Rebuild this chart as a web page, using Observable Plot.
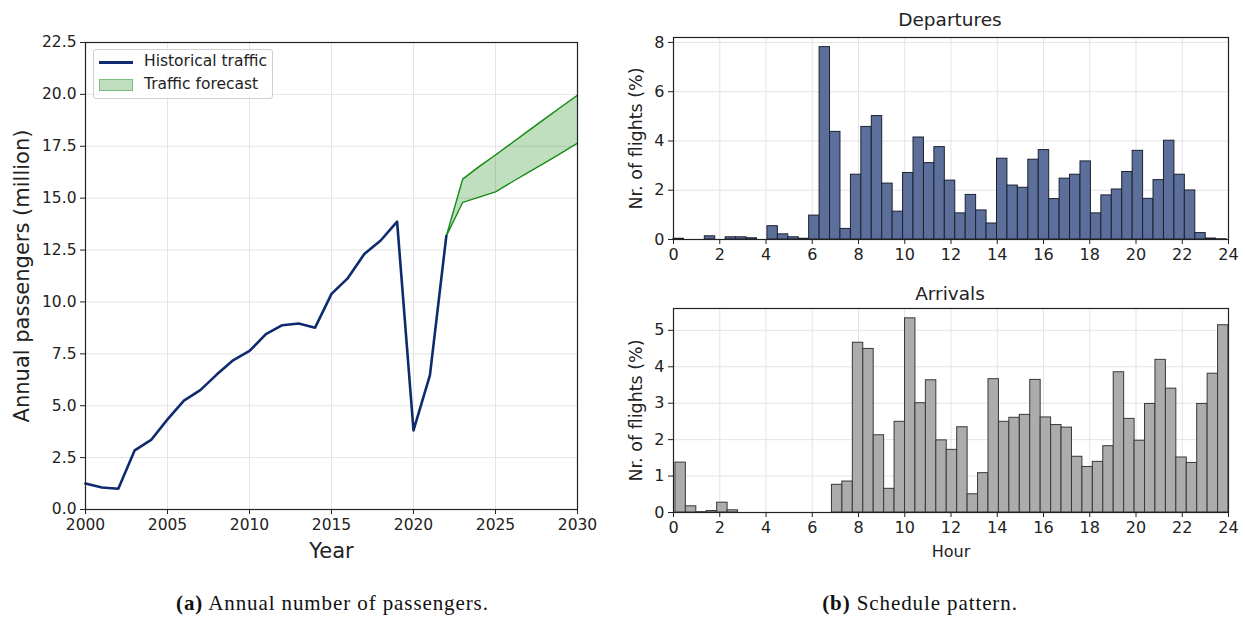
<!DOCTYPE html>
<html>
<head>
<meta charset="utf-8">
<script src="https://cdn.jsdelivr.net/npm/d3@7"></script>
<script src="https://cdn.jsdelivr.net/npm/@observablehq/plot@0.6"></script>
<style>
  body { margin: 0; background: #fff; width: 1245px; height: 619px; position: relative; overflow: hidden; font-family: "DejaVu Sans", sans-serif; color: #222; }
  .abs { position: absolute; }
  .title { position: absolute; font-size: 18.5px; transform: translate(-50%, -50%); white-space: nowrap; }
  .caption { position: absolute; font-family: "Liberation Serif", "DejaVu Serif", serif; font-size: 21px; letter-spacing: 0.9px; line-height: 1; white-space: nowrap; color: #111; }
  .legend { position: absolute; border: 1px solid #d0d0d0; border-radius: 3px; background: rgba(255,255,255,0.85); font-size: 15.5px; }
  .legend .item { position: absolute; left: 50px; line-height: 1; white-space: nowrap; }
  svg { overflow: visible; }
</style>
</head>
<body>
<div id="left" class="abs" style="left:0;top:0"></div>
<div id="dep" class="abs" style="left:600px;top:30px"></div>
<div id="arr" class="abs" style="left:600px;top:300px"></div>
<div class="title" style="left:950px;top:19px">Departures</div>
<div class="title" style="left:950px;top:293px">Arrivals</div>
<div class="legend" style="left:93px;top:49px;width:178px;height:48px">
  <div style="position:absolute;left:5px;top:11px;width:34px;height:3px;background:#0d2b6e"></div>
  <div class="item" style="top:4px">Historical traffic</div>
  <div style="position:absolute;left:5px;top:29px;width:32px;height:10px;background:rgba(0,128,0,0.25);border:1px solid rgba(0,128,0,0.35)"></div>
  <div class="item" style="top:27px">Traffic forecast</div>
</div>
<div class="caption" style="left:176px;top:593px"><b>(a)</b> Annual number of passengers.</div>
<div class="caption" style="left:920px;top:593px;transform:translateX(-50%)"><b>(b)</b> Schedule pattern.</div>
<script>
// ---- Data: annual passengers (million) ----
const histYears = [2000,2001,2002,2003,2004,2005,2006,2007,2008,2009,2010,2011,2012,2013,2014,2015,2016,2017,2018,2019,2020,2021,2022];
const histValues = [1.25,1.06,1.0,2.85,3.35,4.34,5.25,5.75,6.5,7.19,7.64,8.45,8.88,8.96,8.76,10.39,11.15,12.31,12.96,13.87,3.81,6.46,13.17];
const forecastYears = [2022,2023,2024,2025,2026,2027,2028,2029,2030];
const forecastLow = [13.17,14.8,15.05,15.3,15.78,16.24,16.7,17.17,17.65];
const forecastHigh = [13.17,15.92,16.52,17.08,17.66,18.24,18.82,19.39,19.96];
const leftXTicks = [2000,2005,2010,2015,2020,2025,2030];
const leftYTicks = [0,2.5,5,7.5,10,12.5,15,17.5,20,22.5];

// ---- Data: schedule pattern, 53 bins (% of flights) ----
const binCount = 53;
const binSpan = 23.917;            // hours covered by the bins
const depStart = 0;                // first departure bin edge (h)
const arrStart = 0.0833;           // first arrival bin edge (h)
const departures = [0.03,0,0,0.13,0,0.09,0.09,0.05,0,0.54,0.21,0.09,0.03,
  0.97,7.81,4.37,0.43,2.63,4.57,5.01,2.27,1.13,2.70,4.14,3.10,3.75,2.39,
  1.06,1.81,1.18,0.65,3.28,2.19,2.10,3.24,3.63,1.64,2.47,2.63,3.17,1.06,1.79,2.03,2.74,3.60,1.65,2.41,4.01,2.63,1.99,0.26,0.04,0.01];
const arrivals = [1.37,0.17,0.01,0.04,0.27,0.06,0,0,0,0,0,0,0,0,0,
  0.76,0.85,4.66,4.49,2.12,0.65,2.49,5.33,3.00,3.63,1.98,1.72,2.34,
  0.50,1.08,3.66,2.49,2.60,2.68,3.64,2.61,2.40,2.33,1.53,1.25,1.39,1.82,3.85,2.57,1.97,2.98,4.19,3.40,1.51,1.36,2.98,3.81,5.14];
const hourTicks = [0,2,4,6,8,10,12,14,16,18,20,22,24];
const depYTicks = [0,2,4,6,8];
const arrYTicks = [0,1,2,3,4,5];

const gridColor = "#e4e4e4";
const font = {fontFamily: "DejaVu Sans", fontSize: "15px", color: "#222", background: "transparent", overflow: "visible"};

// ---- Left chart ----
const hist = histYears.map((y, i) => ({year: y, value: histValues[i]}));
const forecast = forecastYears.map((y, i) => ({year: y, low: forecastLow[i], high: forecastHigh[i]}));

const left = Plot.plot({
  width: 600, height: 570,
  marginLeft: 85, marginRight: 23, marginTop: 42, marginBottom: 61,
  style: font,
  x: {domain: [2000, 2030], label: null},
  y: {domain: [0, 22.5], label: null},
  marks: [
    Plot.gridX(leftXTicks, {stroke: gridColor, strokeOpacity: 1}),
    Plot.gridY(leftYTicks, {stroke: gridColor, strokeOpacity: 1}),
    Plot.areaY(forecast, {x: "year", y1: "low", y2: "high", fill: "green", fillOpacity: 0.25}),
    Plot.line(forecast, {x: "year", y: "low", stroke: "#138a13", strokeWidth: 1.4}),
    Plot.line(forecast, {x: "year", y: "high", stroke: "#138a13", strokeWidth: 1.4}),
    Plot.line(hist, {x: "year", y: "value", stroke: "#0d2b6e", strokeWidth: 2.6}),
    Plot.frame({stroke: "#222", strokeWidth: 1.2}),
    Plot.axisX({ticks: leftXTicks, tickFormat: "d", tickSize: 5, tickPadding: 4, label: null, fontSize: 15.5}),
    Plot.axisY({ticks: leftYTicks, tickFormat: ".1f", tickSize: 5, tickPadding: 4, label: null, fontSize: 15.5}),
    Plot.text(["Annual passengers (million)"], {frameAnchor: "left", textAnchor: "middle", lineAnchor: "middle", rotate: -90, dx: -63, fontSize: 21, text: d => d}),
    Plot.text(["Year"], {frameAnchor: "bottom", textAnchor: "middle", lineAnchor: "middle", dy: 42, fontSize: 21, text: d => d})
  ]
});
document.getElementById("left").append(left);

// ---- Histograms ----
function bins(values, start) {
  const w = binSpan / binCount;
  return values.map((v, i) => ({x1: start + i * w, x2: start + (i + 1) * w, v}));
}

function histogram(values, start, yMax, yTicks, fill, stroke, height, marginTop, marginBottom, withXLabel) {
  const marks = [
    Plot.gridX(hourTicks, {stroke: gridColor, strokeOpacity: 1}),
    Plot.gridY(yTicks, {stroke: gridColor, strokeOpacity: 1}),
    Plot.rectY(bins(values, start), {x1: "x1", x2: "x2", y: "v", fill, stroke, strokeWidth: 1, insetLeft: 0, insetRight: 0}),
    Plot.frame({stroke: "#222", strokeWidth: 1.2}),
    Plot.axisX({ticks: hourTicks, tickFormat: "d", tickSize: 5, tickPadding: 4, label: null, fontSize: 16}),
    Plot.axisY({ticks: yTicks, tickFormat: "d", tickSize: 5, tickPadding: 4, label: null, fontSize: 16}),
    Plot.text(["Nr. of flights (%)"], {frameAnchor: "left", textAnchor: "middle", lineAnchor: "middle", rotate: -90, dx: -37, fontSize: 17.5, text: d => d})
  ];
  if (withXLabel) marks.push(Plot.text(["Hour"], {frameAnchor: "bottom", textAnchor: "middle", lineAnchor: "middle", dy: 39, fontSize: 16, text: d => d}));
  return Plot.plot({
    width: 645, height,
    marginLeft: 73, marginRight: 17, marginTop, marginBottom,
    style: font,
    x: {domain: [0, 24], label: null},
    y: {domain: [0, yMax], label: null},
    marks
  });
}

document.getElementById("dep").append(histogram(departures, depStart, 8.2, depYTicks, "#5c6f9b", "#1c2130", 240, 7, 31, false));
document.getElementById("arr").append(histogram(arrivals, arrStart, 5.6, arrYTicks, "#acacac", "#383838", 270, 8, 58, true));
</script>
</body>
</html>
